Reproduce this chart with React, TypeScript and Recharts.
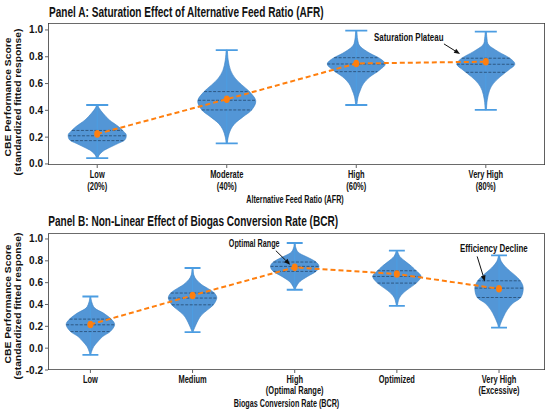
import { ComposedChart, Scatter, XAxis, YAxis } from "recharts";

const SX = 0.72; // reference text is squeezed horizontally
const FONT = "'Liberation Sans', Arial, Helvetica, sans-serif";
const FILL = "#4a90d4";
const EDGE = "#3b82c4";
const STEM = "#4c9de2";
const INNER = "#24496e";
const ORANGE = "#ff7f0e";
const AXIS = "#3a3a3a";
const INK = "#111";

// ---------- Panel A: Alternative Feed Ratio ----------
const afrTicks = [["Low", "(20%)"], ["Moderate", "(40%)"], ["High", "(60%)"], ["Very High", "(80%)"]];
const afrMin = [0.043, 0.154, 0.44, 0.403];
const afrMax = [0.44, 0.85, 0.995, 0.987];
const afrQ1 = [0.174, 0.403, 0.689, 0.684];
const afrMedian = [0.21, 0.475, 0.746, 0.744];
const afrQ3 = [0.25, 0.54, 0.793, 0.789];
const afrMean = [0.224, 0.483, 0.75, 0.763];
// [score, relative half-width]
const afrDensity = [
  [[0.043, 0.03], [0.06, 0.05], [0.08, 0.12], [0.104, 0.26], [0.13, 0.5], [0.154, 0.73], [0.179, 0.95], [0.216, 1], [0.24, 0.92], [0.279, 0.73], [0.328, 0.42], [0.378, 0.2], [0.415, 0.07], [0.44, 0.02]],
  [[0.154, 0.02], [0.2, 0.05], [0.254, 0.13], [0.304, 0.29], [0.353, 0.57], [0.403, 0.86], [0.472, 1], [0.54, 0.78], [0.59, 0.52], [0.64, 0.29], [0.7, 0.13], [0.776, 0.05], [0.85, 0.02]],
  [[0.44, 0.02], [0.5, 0.06], [0.55, 0.14], [0.6, 0.25], [0.65, 0.47], [0.7, 0.8], [0.746, 1], [0.789, 0.8], [0.826, 0.47], [0.876, 0.14], [0.925, 0.05], [0.995, 0.02]],
  [[0.403, 0.02], [0.478, 0.05], [0.55, 0.13], [0.6, 0.26], [0.65, 0.49], [0.7, 0.78], [0.744, 1], [0.789, 0.83], [0.838, 0.43], [0.888, 0.1], [0.938, 0.04], [0.987, 0.02]],
];
const afrYTicks = [0, 0.2, 0.4, 0.6, 0.8, 1.0];
const afrNotes = [{ text: "Saturation Plateau", x: 2.137, y: 0.95, size: 11, fx: 2.677, fy: 0.896, tx: 2.801, ty: 0.821 }];

// ---------- Panel B: Biogas Conversion Rate ----------
const bcrTicks = [["Low"], ["Medium"], ["High", "(Optimal Range)"], ["Optimized"], ["Very High", "(Excessive)"]];
const bcrMin = [-0.061, 0.147, 0.535, 0.388, 0.189];
const bcrMax = [0.473, 0.734, 0.963, 0.893, 0.85];
const bcrQ1 = [0.152, 0.397, 0.703, 0.596, 0.464];
const bcrMedian = [0.214, 0.459, 0.749, 0.657, 0.55];
const bcrQ3 = [0.266, 0.505, 0.789, 0.709, 0.617];
const bcrMean = [0.217, 0.483, 0.74, 0.679, 0.544];
const bcrDensity = [
  [[-0.061, 0.02], [-0.031, 0.05], [0.015, 0.14], [0.061, 0.31], [0.107, 0.51], [0.152, 0.82], [0.214, 1], [0.266, 0.86], [0.321, 0.54], [0.367, 0.18], [0.428, 0.05], [0.473, 0.02]],
  [[0.147, 0.02], [0.168, 0.05], [0.214, 0.14], [0.26, 0.24], [0.306, 0.38], [0.351, 0.62], [0.397, 0.86], [0.459, 1], [0.505, 0.9], [0.535, 0.72], [0.581, 0.38], [0.627, 0.16], [0.672, 0.05], [0.734, 0.02]],
  [[0.535, 0.02], [0.565, 0.07], [0.611, 0.22], [0.657, 0.53], [0.703, 0.88], [0.749, 1], [0.789, 0.88], [0.826, 0.59], [0.872, 0.18], [0.917, 0.05], [0.963, 0.02]],
  [[0.388, 0.02], [0.413, 0.04], [0.459, 0.1], [0.505, 0.26], [0.55, 0.52], [0.596, 0.8], [0.657, 1], [0.709, 0.8], [0.749, 0.61], [0.795, 0.35], [0.84, 0.12], [0.893, 0.02]],
  [[0.189, 0.02], [0.229, 0.07], [0.29, 0.19], [0.351, 0.34], [0.413, 0.58], [0.464, 0.9], [0.55, 1], [0.617, 0.88], [0.673, 0.63], [0.734, 0.31], [0.795, 0.09], [0.85, 0.02]],
];
const bcrYTicks = [-0.2, 0, 0.2, 0.4, 0.6, 0.8, 1.0];
const bcrNotes = [
  { text: "Optimal Range", x: 1.355, y: 0.957, size: 10, fx: 1.815, fy: 0.893, tx: 1.955, ty: 0.765 },
  { text: "Efficiency Decline", x: 3.617, y: 0.92, size: 11, fx: 3.786, fy: 0.84, tx: 3.862, ty: 0.611 },
];

type Pt = { x: number; y: number };

function widthAt(profile: number[][], v: number) {
  for (let k = 0; k < profile.length - 1; k++) {
    const [a, wa] = profile[k];
    const [b, wb] = profile[k + 1];
    if (v >= a && v <= b) return wa + ((v - a) / (b - a)) * (wb - wa);
  }
  return 0;
}

function smooth(pts: Pt[], start: string) {
  let d = `${start}${pts[0].x},${pts[0].y}`;
  for (let k = 0; k < pts.length - 1; k++) {
    const p0 = pts[k - 1] ?? pts[k];
    const p1 = pts[k];
    const p2 = pts[k + 1];
    const p3 = pts[k + 2] ?? p2;
    d += ` C${p1.x + (p2.x - p0.x) / 6},${p1.y + (p2.y - p0.y) / 6} ${p2.x - (p3.x - p1.x) / 6},${p2.y - (p3.y - p1.y) / 6} ${p2.x},${p2.y}`;
  }
  return d;
}

const violinLine = (p: any) => {
  const pts: Pt[] = p.points;
  const n = pts.length / 2;
  const d = smooth(pts.slice(0, n), "M") + smooth(pts.slice(n), " L") + " Z";
  return <path d={d} fill={FILL} fillOpacity={0.95} stroke={EDGE} strokeWidth={0.6} />;
};

const pairPath = (pts: Pt[]) => {
  let d = "";
  for (let k = 0; k + 1 < pts.length; k += 2) d += `M${pts[k].x},${pts[k].y}L${pts[k + 1].x},${pts[k + 1].y}`;
  return d;
};

const segLine = (stroke: string, width: number, dash?: string) => (p: any) => (
  <path d={pairPath(p.points)} fill="none" stroke={stroke} strokeWidth={width} strokeDasharray={dash} />
);

const arrowLine = (p: any) => {
  const pts: Pt[] = p.points;
  const out = [];
  for (let k = 0; k + 1 < pts.length; k += 2) {
    const a = pts[k];
    const b = pts[k + 1];
    const ang = Math.atan2(b.y - a.y, b.x - a.x);
    const c = Math.cos(ang);
    const s = Math.sin(ang);
    const bx = b.x - 6 * c;
    const by = b.y - 6 * s;
    out.push(
      <g key={k}>
        <line x1={a.x} y1={a.y} x2={bx} y2={by} stroke={INK} strokeWidth={1} />
        <polygon points={`${b.x},${b.y} ${bx - 2.4 * s},${by + 2.4 * c} ${bx + 2.4 * s},${by - 2.4 * c}`} fill={INK} />
      </g>
    );
  }
  return <g>{out}</g>;
};

const noDot = () => <g />;

type PanelProps = {
  top: number;
  height: number;
  marginTop: number;
  xDomain: [number, number];
  yDomain: [number, number];
  yTicks: number[];
  tickLabels: string[][];
  tickGap: number;
  min: number[];
  max: number[];
  q1: number[];
  median: number[];
  q3: number[];
  mean: number[];
  density: number[][][];
  half: number;
  cap: number;
  notes: { text: string; x: number; y: number; size: number; fx: number; fy: number; tx: number; ty: number }[];
};

function Panel(props: PanelProps) {
  const { top, height, marginTop, xDomain, yDomain, yTicks, tickLabels, tickGap, min, max, q1, median, q3, mean, density, half, cap, notes } = props;

  const outlines = density.map((prof, i) => [
    ...prof.map(([v, w]) => ({ x: i + w * half, y: v })),
    ...prof
      .slice()
      .reverse()
      .map(([v, w]) => ({ x: i - w * half, y: v })),
  ]);
  const stems = min.flatMap((lo, i) => [{ x: i, y: lo }, { x: i, y: max[i] }]);
  const caps = min.flatMap((lo, i) => [
    { x: i - cap, y: lo },
    { x: i + cap, y: lo },
    { x: i - cap, y: max[i] },
    { x: i + cap, y: max[i] },
  ]);
  const inner = [q1, median, q3].flatMap((arr) =>
    arr.flatMap((v, i) => {
      const w = half * widthAt(density[i], v);
      return [{ x: i - w, y: v }, { x: i + w, y: v }];
    })
  );
  const means = mean.map((m, i) => ({ x: i, y: m }));
  const labels = notes.map((n) => ({ x: n.x, y: n.y, text: n.text, size: n.size }));
  const arrows = notes.flatMap((n) => [{ x: n.fx, y: n.fy }, { x: n.tx, y: n.ty }]);
  // the plot frame, at the corners of the axis domains
  const frame = [
    { x: xDomain[0], y: yDomain[0] },
    { x: xDomain[1], y: yDomain[0] },
    { x: xDomain[1], y: yDomain[0] },
    { x: xDomain[1], y: yDomain[1] },
    { x: xDomain[1], y: yDomain[1] },
    { x: xDomain[0], y: yDomain[1] },
    { x: xDomain[0], y: yDomain[1] },
    { x: xDomain[0], y: yDomain[0] },
  ];

  const xTick = (p: any) => {
    const lines = tickLabels[p.payload.value] ?? [];
    return (
      <g>
        <line x1={p.x} y1={p.y - 5} x2={p.x} y2={p.y - 2} stroke={AXIS} strokeWidth={0.8} />
        <g transform={`translate(${p.x},${p.y + 4.3}) scale(${SX},1)`}>
          {lines.map((l, k) => (
            <text key={k} x={0} y={k * tickGap} textAnchor="middle" dominantBaseline="central" fontFamily={FONT} fontWeight="bold" fontSize={10.4} fill={INK}>
              {l}
            </text>
          ))}
        </g>
      </g>
    );
  };

  const yTick = (p: any) => (
    <g>
      <line x1={p.x + 2} y1={p.y} x2={p.x + 5} y2={p.y} stroke={AXIS} strokeWidth={0.8} />
      <text x={p.x} y={p.y} textAnchor="end" dominantBaseline="central" fontFamily={FONT} fontWeight="bold" fontSize={10} fill={INK}>
        {Number(p.payload.value).toFixed(1)}
      </text>
    </g>
  );

  return (
    <div style={{ position: "absolute", left: 0, top }}>
      <ComposedChart width={550} height={height} margin={{ top: marginTop, right: 5, bottom: 0, left: 0 }}>
        <XAxis type="number" dataKey="x" domain={xDomain} allowDataOverflow ticks={tickLabels.map((_, i) => i)} interval={0} tick={xTick} tickLine={false} axisLine={false} tickSize={3} height={45} />
        <YAxis type="number" dataKey="y" domain={yDomain} allowDataOverflow ticks={yTicks} interval={0} tick={yTick} tickLine={false} axisLine={false} tickSize={3} width={48} />
        {outlines.map((o, i) => (
          <Scatter key={`v${i}`} data={o} line={violinLine} shape={noDot} isAnimationActive={false} />
        ))}
        <Scatter data={stems} line={segLine(STEM, 1.1)} shape={noDot} isAnimationActive={false} />
        <Scatter data={caps} line={segLine(STEM, 1.8)} shape={noDot} isAnimationActive={false} />
        <Scatter data={inner} line={segLine(INNER, 0.8, "3 1.5")} shape={noDot} isAnimationActive={false} />
        <Scatter
          data={means}
          line={{ stroke: ORANGE, strokeWidth: 2, strokeDasharray: "5 3" }}
          shape={(p: any) => <ellipse cx={p.cx} cy={p.cy} rx={3} ry={3.8} fill={ORANGE} />}
          isAnimationActive={false}
        />
        <Scatter data={arrows} line={arrowLine} shape={noDot} isAnimationActive={false} />
        <Scatter
          data={labels}
          shape={(p: any) => (
            <text transform={`translate(${p.cx},${p.cy}) scale(${SX},1)`} dominantBaseline="central" fontFamily={FONT} fontWeight="bold" fontSize={p.payload.size} fill={INK}>
              {p.payload.text}
            </text>
          )}
          isAnimationActive={false}
        />
        <Scatter data={frame} line={segLine(AXIS, 1.6)} shape={noDot} isAnimationActive={false} />
      </ComposedChart>
    </div>
  );
}

const hText = (x: number, y: number, text: string, size: number, anchor: "start" | "middle") => (
  <text transform={`translate(${x},${y}) scale(${SX},1)`} textAnchor={anchor} dominantBaseline="central" fontFamily={FONT} fontWeight="bold" fontSize={size} fill={INK}>
    {text}
  </text>
);

const vText = (x: number, y: number, text: string) => (
  <text transform={`translate(${x},${y}) scale(0.8,1) rotate(-90)`} textAnchor="middle" dominantBaseline="central" fontFamily={FONT} fontWeight="bold" fontSize={10.3} fill={INK}>
    {text}
  </text>
);

export default function App() {
  return (
    <div style={{ position: "absolute", left: 0, top: 0, width: 550, height: 415, background: "#fff", overflow: "hidden" }}>
      <Panel
        top={0}
        height={210}
        marginTop={23}
        xDomain={[-0.38, 3.457]}
        yDomain={[-0.008, 1.052]}
        yTicks={afrYTicks}
        tickLabels={afrTicks}
        tickGap={12.4}
        min={afrMin}
        max={afrMax}
        q1={afrQ1}
        median={afrMedian}
        q3={afrQ3}
        mean={afrMean}
        density={afrDensity}
        half={0.224}
        cap={0.085}
        notes={afrNotes}
      />
      <Panel
        top={210}
        height={205}
        marginTop={23.3}
        xDomain={[-0.415, 4.45]}
        yDomain={[-0.2, 1.052]}
        yTicks={bcrYTicks}
        tickLabels={bcrTicks}
        tickGap={11.4}
        min={bcrMin}
        max={bcrMax}
        q1={bcrQ1}
        median={bcrMedian}
        q3={bcrQ3}
        mean={bcrMean}
        density={bcrDensity}
        half={0.237}
        cap={0.078}
        notes={bcrNotes}
      />
      <svg width={550} height={415} style={{ position: "absolute", left: 0, top: 0, pointerEvents: "none" }}>
        {hText(49, 12, "Panel A: Saturation Effect of Alternative Feed Ratio (AFR)", 14, "start")}
        {vText(8.8, 97, "CBE Performance Score")}
        {vText(18.8, 102, "(standardized fitted response)")}
        {hText(295, 200, "Alternative Feed Ratio (AFR)", 10, "middle")}
        {hText(48.3, 221.7, "Panel B: Non-Linear Effect of Biogas Conversion Rate (BCR)", 14, "start")}
        {vText(8.8, 304, "CBE Performance Score")}
        {vText(18.8, 306, "(standardized fitted response)")}
        {hText(286.5, 403.3, "Biogas Conversion Rate (BCR)", 10, "middle")}
      </svg>
    </div>
  );
}
